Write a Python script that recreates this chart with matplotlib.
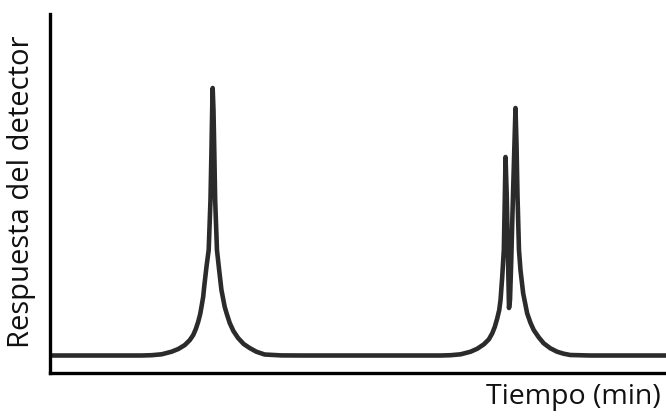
import matplotlib
matplotlib.use("Agg")
import matplotlib.pyplot as plt

# Chromatogram trace (time and response in arbitrary units)
time = [48, 120, 140, 150, 160, 170, 176.7, 183.3, 188.3, 191.7, 194.3, 196.7, 198.7, 200,
        201.7, 202.7, 205, 207.2, 209, 210, 210.7, 211.2,
        212, 212.8, 213.7, 215.5, 217.7, 220, 223.3, 225.7, 228.3, 232, 236.7, 242.3,
        248.3, 255, 263.3, 280, 300,
        400, 440, 450, 460, 470, 476.7, 483.3, 488.3, 491.7, 494.3, 496.7, 498.7, 500,
        501.7, 503.3, 504.2, 505,
        506.2, 507.2, 508, 508.5, 509.5, 510.7, 512, 513.5, 515,
        516, 517, 518.5, 520, 522.7, 526.7, 530, 533.3, 538.3, 543.3, 550, 556.7,
        563.3, 570, 590, 666]
response = [17.5, 17.5, 17.5, 17.8, 18.7, 21.3, 24, 28, 33, 38, 44, 51.3, 59, 66.3,
            76.3, 86.3, 106.3, 123, 173, 223, 263, 285,
            263, 223, 173, 123, 103, 83, 66, 58, 50, 42, 35, 29,
            25, 21.3, 18.5, 17.6, 17.5,
            17.5, 17.5, 17.8, 18.7, 21.3, 24.3, 28.7, 33.7, 39.7, 46.3, 54.7, 63, 73,
            96.3, 123, 170, 216,
            178, 130, 90, 65, 73, 111, 160, 213, 265,
            230, 178, 123, 103, 79.7, 59.7, 50.3, 43, 35.7, 29.7, 24.7, 21.3,
            19.3, 18, 17.5, 17.5]

xlabel = "Tiempo (min)"
ylabel = "Respuesta del detector"

plt.rcParams['font.family'] = ['Open Sans', 'DejaVu Sans']

fig = plt.figure(figsize=(6.66, 4.16), dpi=100)
ax = fig.add_axes([50 / 666, (416 - 373) / 416, 1 - 50 / 666, (373 - 14) / 416])

ax.plot(time, response, color="#2b2b2b", lw=3.3, solid_joinstyle="round", solid_capstyle="butt")
ax.set_xlim(48, 666)
ax.set_ylim(0, 359)

for s in ["top", "right"]:
    ax.spines[s].set_visible(False)
for s in ["left", "bottom"]:
    ax.spines[s].set_linewidth(2.4)
    ax.spines[s].set_color("black")
ax.set_xticks([])
ax.set_yticks([])

fig.text(22 / 666, 1 - 192 / 416, ylabel, rotation=90, ha="center", va="center",
         fontsize=21, color="#111111")
fig.text(573 / 666, 1 - 397 / 416, xlabel, ha="center", va="center",
         fontsize=20.5, color="#111111")

fig.savefig("out.png", dpi=100)
